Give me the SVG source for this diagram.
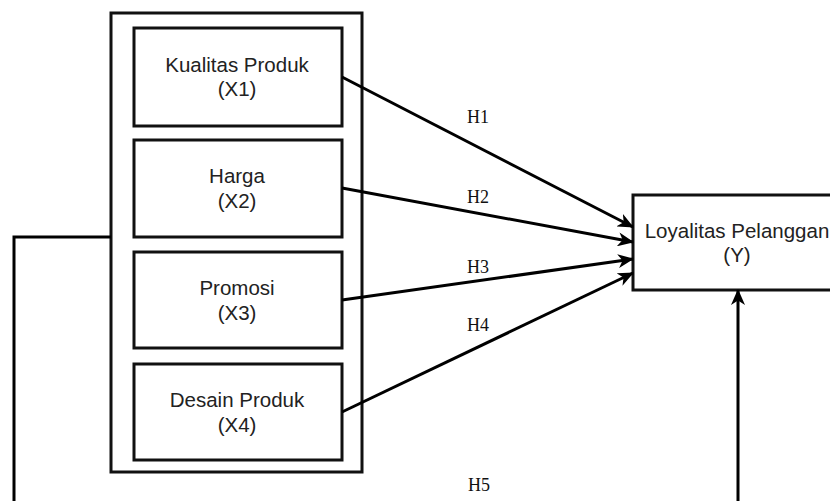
<svg xmlns="http://www.w3.org/2000/svg" width="830" height="501" viewBox="0 0 830 501">
<style>
.box{fill:#fff;stroke:#111;stroke-width:3}
.lbl{font-family:"Liberation Sans",Arial,sans-serif;font-size:20.5px;fill:#222;text-anchor:middle}
.h{font-family:"Liberation Serif","Times New Roman",serif;font-size:18px;fill:#111;text-anchor:middle}
.edge{fill:none;stroke:#000;stroke-width:3}
</style>
<defs>
<marker id="arr" viewBox="0 0 16 14" refX="15" refY="7" markerWidth="16" markerHeight="14" markerUnits="userSpaceOnUse" orient="auto">
<path d="M0,0 L16,7 L0,14 L4.5,7 Z" fill="#000"/>
</marker>
</defs>
<rect width="830" height="501" fill="#fff"/>
<g id="group-x">
<rect class="box" x="111" y="13" width="251" height="459"/>
</g>
<g id="x1">
<rect class="box" x="134" y="28" width="208" height="98"/>
<text class="lbl" x="237" y="72">Kualitas Produk</text>
<text class="lbl" x="237" y="96">(X1)</text>
</g>
<g id="x2">
<rect class="box" x="134" y="140" width="208" height="97"/>
<text class="lbl" x="237" y="183">Harga</text>
<text class="lbl" x="237" y="208">(X2)</text>
</g>
<g id="x3">
<rect class="box" x="134" y="252" width="208" height="96"/>
<text class="lbl" x="237" y="295">Promosi</text>
<text class="lbl" x="237" y="320">(X3)</text>
</g>
<g id="x4">
<rect class="box" x="134" y="364" width="208" height="96"/>
<text class="lbl" x="237" y="407">Desain Produk</text>
<text class="lbl" x="237" y="432">(X4)</text>
</g>
<g id="y">
<rect class="box" x="633" y="195" width="210" height="95"/>
<text class="lbl" x="737" y="238">Loyalitas Pelanggan</text>
<text class="lbl" x="737" y="262">(Y)</text>
</g>
<g id="connectors">
<line class="edge" x1="342" y1="77" x2="633" y2="227" marker-end="url(#arr)"/>
<line class="edge" x1="342" y1="188" x2="633" y2="242" marker-end="url(#arr)"/>
<line class="edge" x1="342" y1="300" x2="633" y2="259" marker-end="url(#arr)"/>
<line class="edge" x1="342" y1="412" x2="633" y2="273" marker-end="url(#arr)"/>
<polyline class="edge" points="111,237 14,237 14,520 738,520 738,290" marker-end="url(#arr)"/>
<text class="h" x="478" y="123">H1</text>
<text class="h" x="478" y="203">H2</text>
<text class="h" x="478" y="273">H3</text>
<text class="h" x="478" y="331">H4</text>
<text class="h" x="479" y="491">H5</text>
</g>
</svg>
